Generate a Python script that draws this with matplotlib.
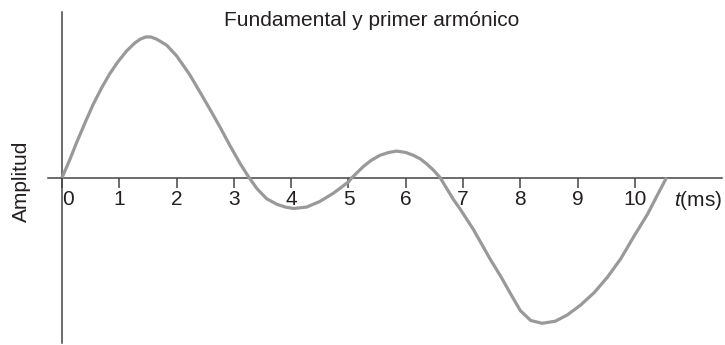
import matplotlib
matplotlib.use("Agg")
import matplotlib.pyplot as plt

plt.rcParams['font.family'] = ['Liberation Sans', 'DejaVu Sans']
plt.rcParams['mathtext.fontset'] = 'custom'
plt.rcParams['mathtext.it'] = 'Liberation Sans:italic'
plt.rcParams['mathtext.rm'] = 'Liberation Sans'

# tiempo (ms) y amplitud
t_ms = [0.00, 0.135, 0.25, 0.40, 0.54, 0.69, 0.83, 0.98, 1.13, 1.27,
        1.37, 1.46, 1.55, 1.65, 1.83, 2.00, 2.12, 2.23, 2.41, 2.58,
        2.76, 2.93, 3.11, 3.25, 3.40, 3.57, 3.75, 3.90, 4.04, 4.27,
        4.50, 4.74, 5.00, 5.06, 5.26, 5.40, 5.55, 5.70, 5.84, 6.00,
        6.13, 6.25, 6.36, 6.48, 6.60, 6.83, 6.95, 7.18, 7.47, 7.65,
        7.83, 8.00, 8.18, 8.38, 8.61, 8.82, 9.05, 9.29, 9.52, 9.75,
        9.98, 10.22, 10.39, 10.55]
amplitud = [0.00, 0.127, 0.246, 0.39, 0.52, 0.64, 0.74, 0.83, 0.906, 0.962,
            0.99, 1.005, 1.005, 0.99, 0.945, 0.87, 0.80, 0.735, 0.61, 0.49,
            0.36, 0.23, 0.10, 0.01, -0.077, -0.15, -0.19, -0.21, -0.22, -0.21,
            -0.17, -0.11, -0.03, 0.00, 0.08, 0.125, 0.16, 0.18, 0.19, 0.18,
            0.16, 0.135, 0.10, 0.055, 0.00, -0.155, -0.225, -0.37, -0.58, -0.70,
            -0.83, -0.95, -1.02, -1.04, -1.025, -0.98, -0.91, -0.82, -0.71, -0.58,
            -0.42, -0.26, -0.125, 0.00]
ticks = [0, 1, 2, 3, 4, 5, 6, 7, 8, 9, 10]
tick_labels = [str(v) for v in ticks]

fig = plt.figure(figsize=(7.25, 3.45), dpi=100)
ax = fig.add_axes([0, 0, 1, 1])
ax.set_xlim(-1.082, 11.571)
ax.set_ylim(-1.195, 1.269)

ax.plot(t_ms, amplitud, color='#999999', lw=2.3, solid_joinstyle='round',
        solid_capstyle='butt', zorder=3)

axis_col = '#444444'
for s in ['top', 'right']:
    ax.spines[s].set_visible(False)
ax.spines['left'].set_position(('data', 0))
ax.spines['bottom'].set_position(('data', 0))
ax.spines['left'].set_bounds(-1.18, 1.18)
ax.spines['bottom'].set_bounds(-0.244, 11.52)
for s in ['left', 'bottom']:
    ax.spines[s].set_color(axis_col)
    ax.spines[s].set_linewidth(1.1)
ax.patch.set_visible(False)

ax.set_yticks([])
ax.set_xticks(ticks)
ax.set_xticklabels(tick_labels, fontsize=15, color='#231f20')
ax.tick_params(axis='x', direction='out', length=7, width=1.1, color=axis_col, pad=2)
ax.get_xticklabels()[0].set_horizontalalignment('left')

ax.text(10.68, -0.166, r'$t$(ms)', fontsize=15, color='#231f20',
        ha='left', va='center')

fig.text(0.512, 0.942, 'Fundamental y primer armónico', fontsize=15,
         color='#231f20', ha='center', va='center')
fig.text(0.030, 0.475, 'Amplitud', fontsize=15, color='#231f20',
         rotation=90, ha='center', va='center')

fig.savefig('out.png', dpi=100)
